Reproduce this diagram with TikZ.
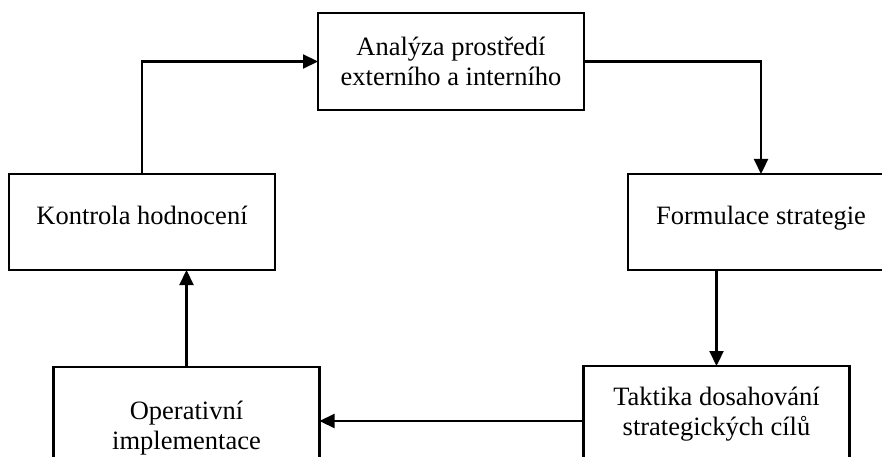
\documentclass[tikz,border=0pt]{standalone}
\usepackage{fontspec}
\setmainfont{Liberation Serif}
\usetikzlibrary{arrows.meta}
\begin{document}
\begin{tikzpicture}[x=1pt,y=-1pt,
  stagebox/.style={draw,line width=2.2pt,rectangle,inner sep=0pt,outer sep=0pt,
    minimum width=266pt,minimum height=96pt,align=center,
    font=\fontsize{26.5}{30}\selectfont},
  flow/.style={line width=2.2pt,-{Triangle[length=15pt,width=14pt]}}]
\useasboundingbox (0,0) rectangle (882,457);
\clip (0,0) rectangle (882,457);
% the five stages of the strategic cycle
\node[stagebox,minimum height=97pt] (A) at (451,61.5) {Analýza prostředí\\externího a interního};
\node[stagebox,text depth=14pt] (K) at (142,222) {Kontrola hodnocení};
\node[stagebox,text depth=14pt] (F) at (761,222) {Formulace strategie};
\node[stagebox] (T) at (716.5,414) {Taktika dosahování\\strategických cílů};
\node[stagebox,minimum height=122pt] (O) at (186.5,428) {Operativní\\implementace};
% connectors around the cycle
\draw[flow] (K.north) |- (A.west);
\draw[flow] (A.east) -| (F.north);
\draw[flow] (T.north |- F.south) -- (T.north);
\draw[flow] ([yshift=-7pt]T.west) -- ([yshift=-7pt]T.west -| O.east);
\draw[flow] (O.north) -- (O.north |- K.south);
\end{tikzpicture}
\end{document}
